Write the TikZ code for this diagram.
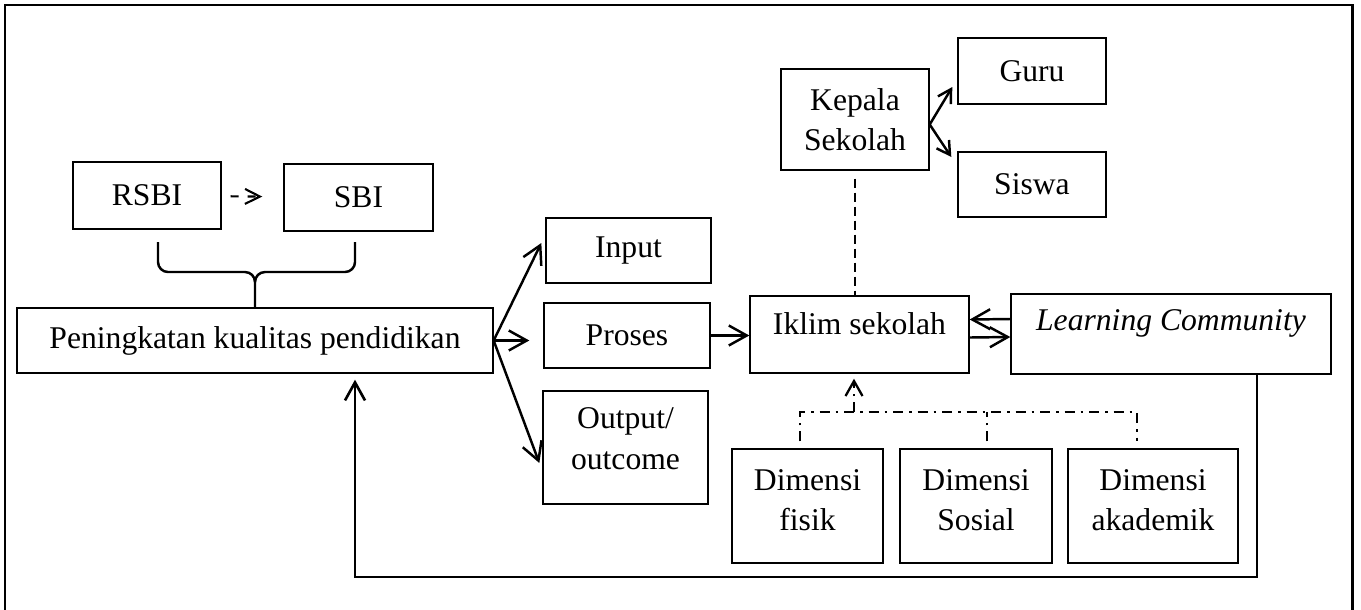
\documentclass[tikz,border=0pt]{standalone}
\usepackage{fontspec}
\setmainfont{Liberation Serif}
\usetikzlibrary{arrows.meta}

\begin{document}
\begin{tikzpicture}[x=0.02cm, y=-0.02cm,
    >={Straight Barb[length=3.6mm,width=4mm]},
    font=\fontsize{18}{23}\selectfont,
    box/.style={draw, line width=0.8pt, inner sep=0pt, align=center},
    arr/.style={->, line width=1.4pt},
    dashdot/.style={line width=1.3pt, dash pattern=on 2mm off 1.2mm on 0.5mm off 1.2mm}]
    \useasboundingbox (0,0) rectangle (1361,609);

    % Outer frame (its bottom edge lies below the page)
    \draw[line width=1.7pt] (5,615) -- (5,5) -- (1352,5) -- (1352,615);

    % RSBI to SBI
    \node[box, minimum width=2.96cm, minimum height=1.34cm] (rsbi) at (147,195.5) {RSBI};
    \node[box, minimum width=2.98cm, minimum height=1.34cm] (sbi) at (358.5,197.5) {SBI};
    \draw[->, >={Straight Barb[length=3mm,width=3mm]}, line width=1.2pt,
          dash pattern=on 1.6mm off 1.8mm, shorten <=0.18cm, shorten >=0.42cm] (rsbi) -- (sbi);

    % Peningkatan kualitas
    \node[box, minimum width=9.52cm, minimum height=1.3cm] (pk) at (255,340.5) {Peningkatan kualitas pendidikan};

    % Brace under RSBI and SBI
    \draw[line width=1.4pt] (158,242) -- (158,262) to[out=-90,in=180] (168,272) -- (245,272)
          to[out=0,in=90] (255,282) -- (pk.north);
    \draw[line width=1.4pt] (355,242) -- (355,262) to[out=-90,in=0] (345,272) -- (265,272)
          to[out=180,in=90] (255,282);

    % Input, proses, output
    \node[box, minimum width=3.3cm, minimum height=1.3cm] (input) at (628.5,250.5) {Input};
    \node[box, minimum width=3.32cm, minimum height=1.3cm] (proses) at (627,335.5) {Proses};
    \node[box, minimum width=3.3cm, minimum height=2.26cm, text depth=0.36cm] (output) at (625.5,447.5) {Output/\\outcome};
    \draw[arr] (pk.east) -- ([xshift=-0.08cm, yshift=0.15cm]input.west);
    \draw[arr, shorten >=0.28cm] (pk.east) -- (pk.east -| proses.west);
    \draw[arr] (pk.east) -- ([xshift=-0.06cm, yshift=-0.31cm]output.west);

    % Iklim sekolah and learning community
    \node[box, minimum width=4.38cm, minimum height=1.54cm, text depth=0.42cm] (iklim) at (859.5,334.5) {Iklim sekolah};
    \node[box, minimum width=6.4cm, minimum height=1.6cm, text depth=0.54cm] (lc) at (1171,334) {\textit{Learning Community}};
    \draw[arr] (proses) -- (proses -| iklim.west);
    \draw[arr] ([yshift=0.3cm]lc.west) -- ([yshift=0.3cm]iklim.east);
    \draw[arr] ([yshift=-0.06cm]iklim.east) -- ([yshift=-0.06cm]lc.west);

    % Kepala sekolah, guru, siswa
    \node[box, minimum width=2.96cm, minimum height=2.02cm] (kepala) at (855,119.5) {Kepala\\Sekolah};
    \node[box, minimum width=2.96cm, minimum height=1.32cm] (guru) at (1032,71) {Guru};
    \node[box, minimum width=2.96cm, minimum height=1.3cm] (siswa) at (1032,184.5) {Siswa};
    \draw[arr, >={Straight Barb[length=2.6mm,width=3mm]}] ([yshift=-0.1cm]kepala.east)
          -- ([xshift=-0.1cm, yshift=-0.32cm]guru.west);
    \draw[arr, >={Straight Barb[length=2.6mm,width=3mm]}] ([yshift=-0.1cm]kepala.east)
          -- ([xshift=-0.12cm, yshift=0.55cm]siswa.west);
    \draw[line width=1pt, dash pattern=on 1.8mm off 1mm, shorten <=0.16cm] (kepala.south) -- (kepala.south |- iklim.north);

    % Dimensi
    \node[box, minimum width=3.02cm, minimum height=2.28cm, text depth=0.24cm] (fisik) at (807.5,506) {Dimensi\\fisik};
    \node[box, minimum width=3.04cm, minimum height=2.28cm, text depth=0.24cm] (sosial) at (976,506) {Dimensi\\Sosial};
    \node[box, minimum width=3.4cm, minimum height=2.28cm, text depth=0.24cm] (akademik) at (1153,506) {Dimensi\\akademik};

    \coordinate (ddL) at (800,412);
    \coordinate (ddM) at (987,412);
    \coordinate (ddR) at (1137,412);
    \coordinate (ddA) at (854,412);
    \draw[dashdot, shorten <=0.14cm, shorten >=0.14cm] (ddL |- fisik.north) -- (ddL) -- (ddR) -- (ddR |- akademik.north);
    \draw[dashdot, shorten <=0.14cm] (ddM |- sosial.north) -- (ddM);
    \draw[dashdot, ->, >={Straight Barb[length=3mm,width=3.4mm]}, shorten >=0.1cm] (ddA) -- (ddA |- iklim.south);

    % Feedback to peningkatan kualitas
    \coordinate (fbR) at (1257,577);
    \coordinate (fbL) at (355,577);
    \draw[->, line width=1.5pt, shorten >=0.12cm] (lc.south -| fbR) -- (fbR) -- (fbL) -- (pk.south -| fbL);
\end{tikzpicture}
\end{document}
